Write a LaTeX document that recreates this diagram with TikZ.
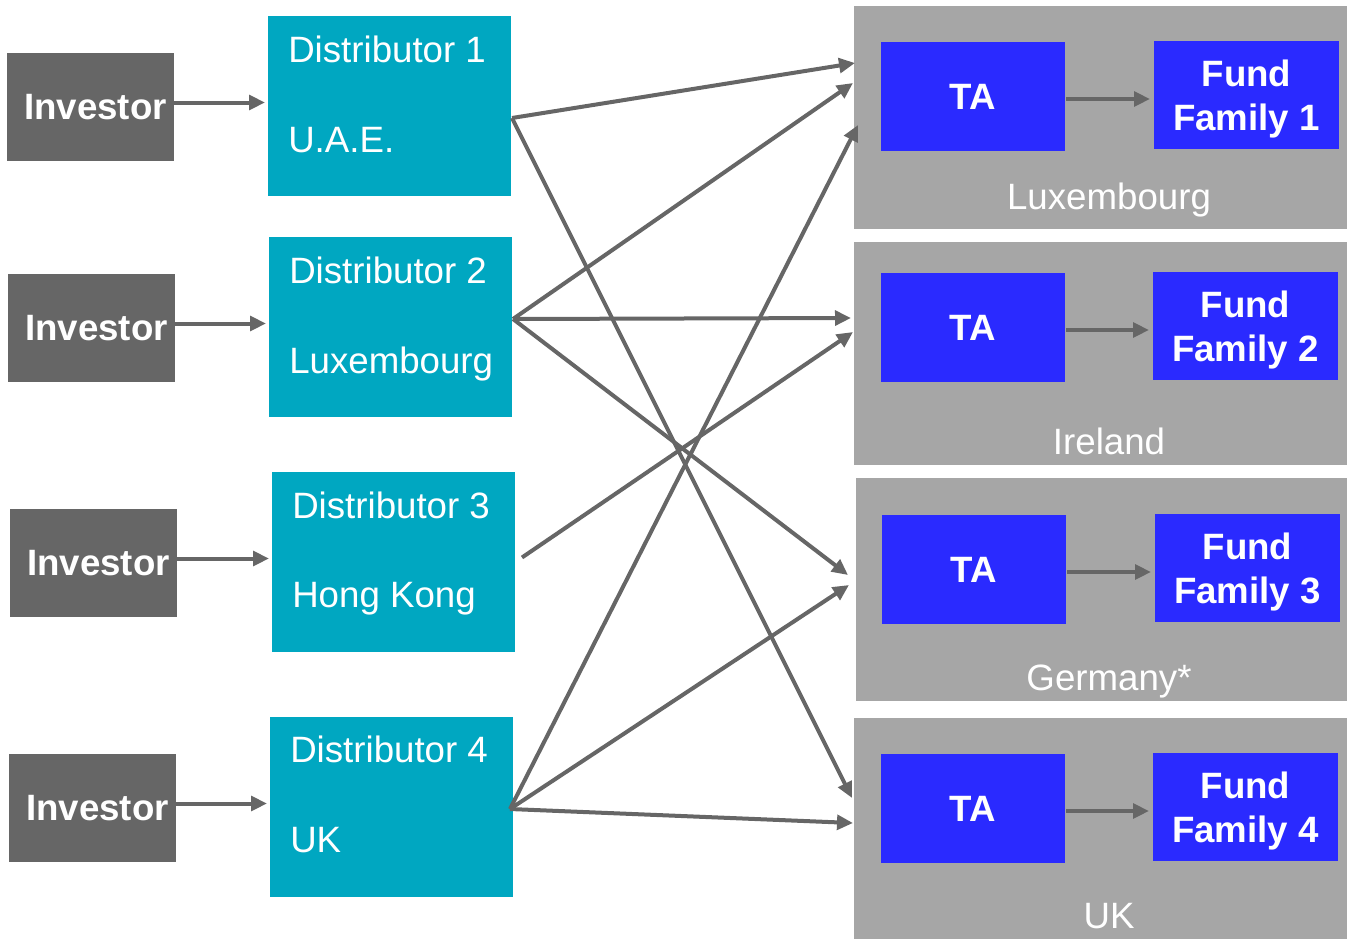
\documentclass[tikz,border=0pt]{standalone}
\usepackage{fontspec}
\setmainfont{Liberation Sans}
\usetikzlibrary{arrows.meta,calc}
\definecolor{invgray}{HTML}{666666}
\definecolor{distteal}{HTML}{00A7C1}
\definecolor{reggray}{HTML}{A6A6A6}
\definecolor{tablue}{HTML}{2A2AFF}
\definecolor{arrgray}{HTML}{666666}
\begin{document}
\begin{tikzpicture}[x=0.75pt,y=-0.75pt,
  box/.style={draw=none,inner sep=0pt,outer sep=0pt,anchor=north west},
  bigtext/.style={font=\fontsize{27.5}{33}\selectfont},
  boldtext/.style={font=\fontsize{27.5}{33}\selectfont\bfseries},
  invbox/.style={box,fill=invgray,minimum width=125.25pt,minimum height=81pt},
  invtext/.style={inner sep=0pt,text=white,boldtext},
  distbox/.style={box,fill=distteal,minimum width=182.25pt,minimum height=135pt},
  disttext/.style={anchor=base west,inner sep=0pt,text=white,bigtext},
  regbox/.style={box,fill=reggray,minimum width=369.75pt,minimum height=167.25pt},
  regtext/.style={anchor=base,inner sep=0pt,text=white,bigtext},
  tabox/.style={box,fill=tablue,minimum width=138pt,minimum height=81.75pt,text=white,align=center,boldtext},
  fundbox/.style={box,fill=tablue,minimum width=138.75pt,minimum height=81pt},
  fundtext/.style={inner sep=0pt,text=white,align=center,boldtext},
  arr/.style={draw=arrgray,line width=3pt,-{Triangle[length=12pt,width=11pt]}},
  tarr/.style={draw=arrgray,line width=3.5pt,-{Triangle[length=12pt,width=11pt]}}
]
\useasboundingbox (0,0) rectangle (1348,939);

% regions
\node[regbox] (r1) at (854,6) {};
\node[regbox] (r2) at (854,242) {};
\node[regbox,minimum width=368.25pt] (r3) at (856,478) {};
\node[regbox,minimum height=165.75pt] (r4) at (854,718) {};
\node[regtext] (r1t) at (1109,209) {Luxembourg};
\node[regtext] (r2t) at (1109,454) {Ireland};
\node[regtext] (r3t) at (1109,690) {Germany*};
\node[regtext] (r4t) at (1109,928) {UK};

% TA and fund boxes
\node[tabox] (ta1) at (881,42) {TA};
\node[tabox] (ta2) at (881,273) {TA};
\node[tabox] (ta3) at (882,515) {TA};
\node[tabox] (ta4) at (881,754) {TA};
\node[fundbox] (f1) at (1154,41) {};
\node[fundbox] (f2) at (1153,272) {};
\node[fundbox] (f3) at (1155,514) {};
\node[fundbox] (f4) at (1153,753) {};
\foreach \k in {1,2,3,4}{
  \node[fundtext] (f\k t) at ($(f\k.center)+(0,4)$) {Fund\\Family \k};
}

% investors
\node[invbox] (i1) at (7,53) {};
\node[invbox] (i2) at (8,274) {};
\node[invbox] (i3) at (10,509) {};
\node[invbox] (i4) at (9,754) {};
\foreach \k in {1,2,3,4}{
  \node[invtext] (i\k t) at ($(i\k.center)+(5,0)$) {Investor};
}

% distributors
\node[distbox] (d1) at (268,16) {};
\node[distbox] (d2) at (269,237) {};
\node[distbox] (d3) at (272,472) {};
\node[distbox] (d4) at (270,717) {};
\node[disttext] (d1a) at (288,62) {Distributor 1};
\node[disttext] (d1b) at (288,152) {U.A.E.};
\node[disttext] (d2a) at (289,283) {Distributor 2};
\node[disttext] (d2b) at (289,373) {Luxembourg};
\node[disttext] (d3a) at (292,518) {Distributor 3};
\node[disttext] (d3b) at (292,607) {Hong Kong};
\node[disttext] (d4a) at (290,762) {Distributor 4};
\node[disttext] (d4b) at (290,852) {UK};

% investor -> distributor
\foreach \k in {1,2,3,4}{
  \draw[arr] ($(i\k.east)+(0,-4.5)$) -- ($(i\k.east -| d\k.west)+(-3,-4.5)$);
}
% TA -> fund
\foreach \k in {1,2,3,4}{
  \draw[tarr] ($(ta\k.east)+(1,2.5)$) -- ($(ta\k.east -| f\k.west)+(-4,2.5)$);
}

% cross connectors
\coordinate (s1) at ($(d1.east)+(1,12)$);
\coordinate (s2) at ($(d2.east)+(1,-8)$);
\coordinate (s3) at ($(d3.east)+(7,-4.5)$);
\coordinate (s4) at ($(d4.east)+(-3,2)$);
\coordinate (e1a) at (855,63);
\coordinate (e1b) at (853,83);
\coordinate (e1c) at (858,125);
\coordinate (e2a) at (851,318);
\coordinate (e2b) at (853,332);
\coordinate (e3a) at (848,575);
\coordinate (e3b) at (849,585);
\coordinate (e4a) at (852,798);
\coordinate (e4b) at (853,823);

\draw[arr] (s1) -- (e1a);
\draw[arr] (s1) -- (e4a);
\draw[arr] (s2) -- (e1b);
\draw[arr] (s2) -- (e2a);
\draw[arr] (s2) -- (e3a);
\draw[arr] (s3) -- (e2b);
\draw[arr] (s4) -- (e1c);
\draw[arr] (s4) -- (e3b);
\draw[arr] (s4) -- (e4b);
\end{tikzpicture}
\end{document}
